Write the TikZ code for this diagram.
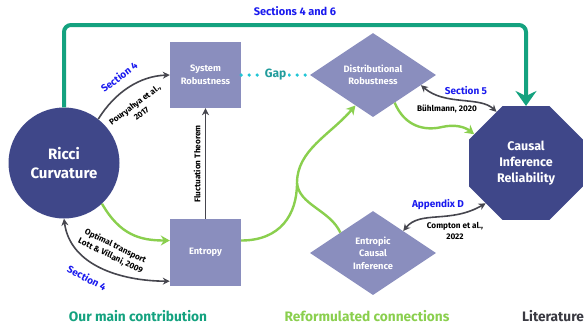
\documentclass[tikz,border=0pt]{standalone}
\usepackage{fontspec}
\setmainfont{Fira Sans}
\usetikzlibrary{arrows.meta,shapes.geometric,calc}
\definecolor{navy}{HTML}{3F4789}
\definecolor{lav}{HTML}{8A8EBE}
\definecolor{tealc}{HTML}{14A27F}
\definecolor{greenc}{HTML}{8ACF4E}
\definecolor{darkc}{HTML}{46464E}
\definecolor{bluec}{HTML}{1A1AEE}
\definecolor{gapc}{HTML}{219C9C}
\definecolor{dotc}{HTML}{22C6D6}
\definecolor{litc}{HTML}{3A3A42}
\tikzset{
  bigtxt/.style={font=\bfseries\fontsize{15}{19}\selectfont, text=white, align=center},
  octtxt/.style={font=\bfseries\fontsize{12.5}{16}\selectfont, text=white, align=center},
  lavtxt/.style={font=\bfseries\fontsize{9.3}{12.5}\selectfont, text=white, align=center},
  lavbox/.style={rectangle, fill=lav, minimum width=71pt, minimum height=66pt, inner sep=0pt, lavtxt},
  lavdia/.style={diamond, fill=lav, minimum width=126pt, minimum height=84pt, inner sep=0pt, lavtxt},
  darkarr/.style={draw=darkc, line width=1.6pt, -{Stealth[length=7pt,width=7pt]}},
  darkdbl/.style={draw=darkc, line width=1.6pt, {Stealth[length=7pt,width=7pt]}-{Stealth[length=7pt,width=7pt]}},
  greenln/.style={draw=greenc, line width=2.4pt},
  greenarr/.style={greenln, -{Stealth[length=9pt,width=10pt,inset=3pt]}},
  seclab/.style={font=\bfseries\fontsize{10}{12}\selectfont, text=bluec, inner sep=0pt},
  reflab/.style={font=\bfseries\fontsize{8.2}{11}\selectfont, text=black, align=center, inner sep=0pt},
  legend/.style={font=\bfseries\fontsize{13.7}{15}\selectfont, inner sep=1pt},
}
\begin{document}
\begin{tikzpicture}[x=1pt,y=-1pt]
\useasboundingbox (0,0) rectangle (587,325);

% nodes
\node[circle, fill=navy, minimum size=111pt, inner sep=0pt, bigtxt] (ricci) at (64,163) {Ricci\\Curvature};
\node[lavbox] (sys) at (205.5,75) {System\\Robustness};
\node[lavbox, minimum height=67pt] (ent) at (205.5,252.5) {Entropy};
\node[lavdia] (dist) at (373,75) {Distributional\\Robustness};
\node[lavdia] (eci) at (373,253) {Entropic\\Causal\\Inference};
\node[regular polygon, regular polygon sides=8, fill=navy, minimum size=123pt, inner sep=0pt, octtxt] (oct) at (526,163) {Causal\\Inference\\Reliability};

\coordinate (topy) at (0,25);
\coordinate (jn) at (297,183);

% teal big arrow
\draw[draw=tealc, line width=4pt, rounded corners=7pt, -{Stealth[length=15pt,width=21pt,inset=5pt]}]
  (ricci.north) |- (oct.north |- topy) -- (oct.north);
\node[font=\bfseries\fontsize{11}{13}\selectfont, text=bluec, inner sep=1pt] (s46) at (295,11) {Sections 4 and 6};

% gap
\draw[draw=dotc, line width=3.6pt, line cap=round, dash pattern=on 0pt off 8pt] (sys.east) -- (dist.west);
\node[fill=white, inner sep=2pt, font=\bfseries\fontsize{12}{13}\selectfont, text=gapc] (gap) at ($(sys.east)!0.5!(dist.west)$) {Gap};

% Ricci -> System Robustness
\draw[darkarr] (ricci.52) .. controls (115,92) and (140,76) .. (sys.west);
\node[seclab, rotate=37] (s4a) at (119,77) {Section 4};
\node[reflab, rotate=37] (pou) at (138,109) {Pouryahya et al.,\\2017};

% Fluctuation theorem
\draw[darkarr] (ent.north) -- (sys.south);
\node[reflab, rotate=90] (fluc) at (197,164) {Fluctuation Theorem};

% Ricci -> Entropy green
\draw[greenarr] (ricci.-47) .. controls (120,235) and (140,240.5) .. ([yshift=12pt]ent.east -| ent.west);

% Lott & Villani
\draw[darkdbl] (ricci.south) .. controls (70,265) and (120,281) .. ([yshift=5pt]ent.south west);
\node[reflab, rotate=-26] (lott) at (113,251) {Optimal transport\\Lott \& Villani, 2009};
\node[seclab, rotate=-28] (s4b) at (87,278) {Section 4};

% Entropy -> junction -> Distributional Robustness
\draw[greenln] ([yshift=12pt]ent.east) .. controls (280,240.5) and (297,215) .. (jn);
\draw[greenarr] (jn) .. controls (297,150) and (330,135) .. (dist.-120);
\draw[greenln] (jn) .. controls (299,205) and (330,210) .. (eci.148);

% Distributional -> Octagon green
\draw[greenarr] (dist.-52) .. controls (405,127) and (425,131) .. (442,127) .. controls (455,124) and (465,127) .. (oct.151);

% Buhlmann
\draw[darkdbl] (dist.-12) .. controls (445,106) and (480,96) .. (oct.120);
\node[seclab] (s5) at (466,91) {Section 5};
\node[reflab] (buh) at (447,109) {Bühlmann, 2020};

% Appendix D
\draw[darkdbl] (eci.36) .. controls (420,210) and (450,224) .. (oct.-135);
\node[seclab] (appd) at (438,205) {Appendix D};
\node[reflab] (comp) at (455,231) {Compton et al.,\\2022};

% legend
\node[legend, text=tealc] (l1) at (138,316) {Our main contribution};
\node[legend, text=greenc] (l2) at (367,316) {Reformulated connections};
\node[legend, text=litc] (l3) at (553,316) {Literature};
\end{tikzpicture}
\end{document}
